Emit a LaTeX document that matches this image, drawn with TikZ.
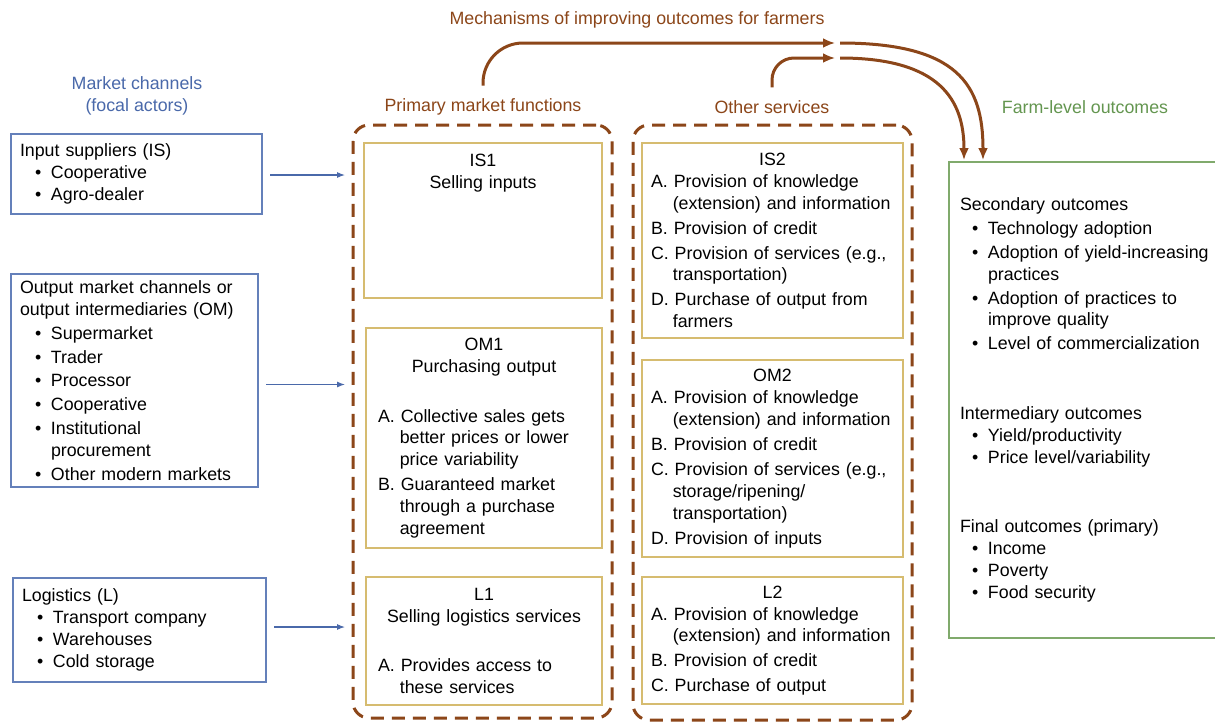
\documentclass[tikz,border=0pt]{standalone}
\usepackage{fontspec}
\setmainfont{Liberation Sans}
\usetikzlibrary{arrows.meta}
\definecolor{chanblue}{RGB}{74,105,170}
\definecolor{chanedge}{RGB}{100,128,186}
\definecolor{mechbrown}{RGB}{140,70,25}
\definecolor{fngold}{RGB}{214,188,112}
\definecolor{farmgreen}{RGB}{100,150,80}
\definecolor{farmedge}{RGB}{128,170,108}
\newcommand{\hd}[1]{\makebox[\hsize]{#1}}
\newcommand{\bul}[1][15pt]{\hspace*{#1}\makebox[16pt][l]{\textbullet}}
\newcommand{\bcont}[1][15pt]{\hspace*{#1}\hspace*{16pt}}
\newcommand{\lcont}{\hspace*{21.8pt}}
\begin{document}
\begin{tikzpicture}[x=1pt,y=-1pt,inner sep=0pt,outer sep=0pt,
font=\fontsize{17.8}{21.8}\selectfont,
chanbox/.style={draw=chanedge,line width=1.2pt,anchor=north west,align=left,inner xsep=9pt},
fnbox/.style={draw=fngold,line width=1.2pt,anchor=north west,align=left},
fnframe/.style={draw=mechbrown,line width=3pt,dash pattern=on 13pt off 8pt,rounded corners=16pt,anchor=north west},
farmbox/.style={draw=farmedge,line width=1.2pt,anchor=north west,align=left,inner xsep=11pt},
chanarrow/.style={draw=chanblue,line width=1.1pt,-{Latex[length=8pt,width=6pt]},shorten <=8pt,shorten >=8pt},
mecharrow/.style={draw=mechbrown,line width=3pt,-{Latex[length=12pt,width=10pt]}}]
\fill[white] (0,0) rectangle (1215,723);
\useasboundingbox (0,0) rectangle (1215,723);
\draw (637,20) node[text=mechbrown] (mech) {Mechanisms of improving outcomes for farmers};
\draw (137,96) node[text=chanblue,align=center] (chan) {Market channels\\(focal actors)};
\draw (483,107) node[text=mechbrown] (pmfhead) {Primary market functions};
\draw (772,107) node[text=mechbrown] (oshead) {Other services};
\draw (1085,107) node[text=farmgreen] (farmhead) {Farm-level outcomes};
\draw (353,125) node[fnframe,minimum width=259pt,minimum height=593pt] (pmf) {};
\draw (633,125) node[fnframe,minimum width=279pt,minimum height=595pt] (os) {};
\draw (11,134) node[chanbox,text width=233pt,minimum height=80pt] (is) {Input suppliers (IS)\\\bul Cooperative\\\bul Agro-dealer};
\draw (11,274) node[chanbox,text width=229pt,minimum height=213pt] (om) {Output market channels or\\output intermediaries (OM)\\[2pt]\bul Supermarket\\[2pt]\bul Trader\\[2pt]\bul Processor\\[2pt]\bul Cooperative\\[2pt]\bul Institutional\\\bcont procurement\\[2pt]\bul Other modern markets};
\draw (13,578) node[chanbox,text width=235pt,minimum height=104pt] (lg) {Logistics (L)\\\bul Transport company\\\bul Warehouses\\\bul Cold storage};
\draw (364,143) node[fnbox,inner xsep=13pt,text width=212pt,minimum height=155pt] (is1) {\hd{IS1}\\\hd{Selling inputs}\\\rule{0pt}{94pt}};
\draw (366,328) node[fnbox,inner xsep=12pt,text width=212pt,minimum height=220pt] (om1) {\hd{OM1}\\\hd{Purchasing output}\\[28pt]A. Collective sales gets\\\lcont better prices or lower\\\lcont price variability\\[3pt]B. Guaranteed market\\\lcont through a purchase\\\lcont agreement};
\draw (366,577) node[fnbox,inner xsep=12pt,text width=212pt,minimum height=128pt] (l1) {\hd{L1}\\\hd{Selling logistics services}\\[27pt]A. Provides access to\\\lcont these services};
\draw (642,143) node[fnbox,inner xsep=9pt,text width=243pt,minimum height=195pt] (is2) {\hd{IS2}\\A. Provision of knowledge\\\lcont (extension) and information\\[3pt]B. Provision of credit\\[3pt]C. Provision of services (e.g.,\\\lcont transportation)\\[3pt]D. Purchase of output from\\\lcont farmers};
\draw (642,360) node[fnbox,inner xsep=9pt,text width=243pt,minimum height=197pt] (om2) {\hd{OM2}\\A. Provision of knowledge\\\lcont (extension) and information\\[4pt]B. Provision of credit\\[3pt]C. Provision of services (e.g.,\\\lcont storage/ripening/\\\lcont transportation)\\[3pt]D. Provision of inputs};
\draw (642,577) node[fnbox,inner xsep=9pt,text width=243pt,minimum height=127pt] (l2) {\hd{L2}\\A. Provision of knowledge\\\lcont (extension) and information\\[3pt]B. Provision of credit\\[3pt]C. Purchase of output};
\draw (949,162) node[farmbox,text width=251pt,minimum height=476pt] (farm) {Secondary outcomes\\[2pt]\bul[12pt]Technology adoption\\[2pt]\bul[12pt]Adoption of yield-increasing\\\bcont[12pt]practices\\[2pt]\bul[12pt]Adoption of practices to\\\bcont[12pt]improve quality\\[2pt]\bul[12pt]Level of commercialization\\[48pt]Intermediary outcomes\\\bul[12pt]Yield/productivity\\\bul[12pt]Price level/variability\\[48pt]Final outcomes (primary)\\\bul[12pt]Income\\\bul[12pt]Poverty\\\bul[12pt]Food security};
\coordinate (mechA) at (835,43);
\coordinate (mechB) at (835,58);
\draw[chanarrow] ([yshift=-1pt]is.east) -- ([yshift=-1pt]is.east -| pmf.west);
\draw[chanarrow] ([yshift=-4pt]om.east) -- ([yshift=-4pt]om.east -| pmf.west);
\draw[chanarrow] ([yshift=3pt]lg.east) -- ([yshift=3pt]lg.east -| pmf.west);
\draw[mecharrow,rounded corners=40pt] ([yshift=13pt]pmfhead.north) |- (mechA);
\draw[mecharrow,rounded corners=22pt] ([yshift=13pt]oshead.north) |- (mechB);
\draw[mecharrow] ([xshift=5pt]mechA) .. controls +(118,0) and +(0,-75) .. ([xshift=34pt,yshift=2pt]farm.north west);
\draw[mecharrow] ([xshift=5pt]mechB) .. controls +(100,0) and +(0,-60) .. ([xshift=15pt,yshift=2pt]farm.north west);
\end{tikzpicture}
\end{document}
